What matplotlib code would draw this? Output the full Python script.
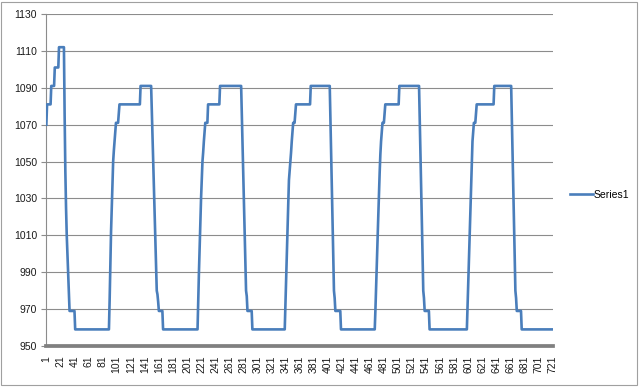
import numpy as np
import matplotlib
matplotlib.use("Agg")
import matplotlib.pyplot as plt
from matplotlib.patches import Rectangle

# readings as (value, number of consecutive points), one list per cycle
cycle1 = [(1070, 1), (1081, 6), (1091, 5), (1101, 6), (1112, 8),
          (1075, 1), (1045, 1), (1025, 1), (1010, 1), (1000, 1), (990, 1), (980, 1),
          (969, 8), (959, 49)]
cycle2 = [(975, 1), (995, 1), (1012, 1), (1025, 1), (1037, 1), (1050, 1),
          (1056, 1), (1061, 1), (1066, 1), (1071, 4), (1076, 1), (1081, 30), (1091, 16),
          (1077, 1), (1063, 1), (1049, 1), (1035, 1), (1021, 1), (1007, 1), (993, 1),
          (980, 1), (978, 1), (974, 1), (969, 6), (959, 50)]
cycle3 = [(975, 1), (990, 1), (1004, 1), (1018, 1), (1030, 1), (1040, 1), (1050, 1),
          (1055, 1), (1061, 1), (1066, 1), (1071, 4), (1081, 17), (1091, 31),
          (1075, 1), (1059, 1), (1043, 1), (1027, 1), (1011, 1), (995, 1), (980, 1),
          (977, 1), (969, 7), (959, 47)]
cycle4 = [(973, 1), (987, 1), (1000, 1), (1013, 1), (1027, 1), (1040, 1), (1045, 1),
          (1050, 1), (1055, 1), (1061, 1), (1066, 1), (1071, 3), (1076, 1), (1081, 21),
          (1091, 28), (1073, 1), (1055, 1), (1036, 1), (1018, 1), (999, 1), (980, 1),
          (976, 1), (969, 8), (959, 49)]
cycle5 = [(970, 1), (983, 1), (995, 1), (1008, 1), (1020, 1), (1032, 1), (1044, 1),
          (1054, 1), (1061, 1), (1066, 1), (1071, 3), (1076, 1), (1081, 20), (1091, 29),
          (1073, 1), (1055, 1), (1036, 1), (1018, 1), (999, 1), (980, 1), (976, 1),
          (969, 7), (959, 54)]
cycle6 = [(972, 1), (985, 1), (998, 1), (1011, 1), (1024, 1), (1037, 1), (1049, 1),
          (1061, 1), (1066, 1), (1071, 3), (1076, 1), (1081, 25), (1091, 25),
          (1073, 1), (1055, 1), (1036, 1), (1018, 1), (999, 1), (980, 1), (976, 1),
          (969, 7), (959, 45)]

y_ticks = list(range(950, 1131, 20))
x_tick_step = 20


def expand(runs):
    vals = [v for v, n in runs]
    reps = [n for v, n in runs]
    return np.repeat(vals, reps)


series1 = np.concatenate([expand(c) for c in (cycle1, cycle2, cycle3, cycle4, cycle5, cycle6)])
x = np.arange(1, len(series1) + 1)

plt.rcParams['font.family'] = ['Liberation Sans', 'DejaVu Sans']

fig = plt.figure(figsize=(6.4, 3.87), dpi=100)
ax = fig.add_axes([46 / 640, 1 - 346 / 387, (553 - 46) / 640, (346 - 14) / 387])

ax.plot(x, series1, color='#4a7ebb', lw=1.9, label='Series1', zorder=3)

ax.set_ylim(950, 1130)
ax.set_xlim(0.5, len(series1) + 0.5)
ax.set_yticks(y_ticks)
ax.set_xticks(x[::x_tick_step])
ax.set_xticklabels([str(v) for v in x[::x_tick_step]], rotation=90)
ax.grid(axis='y', color='#8c8c8c', lw=0.8)
ax.set_axisbelow(True)

for s in ('top', 'right'):
    ax.spines[s].set_visible(False)
ax.spines['left'].set_color('#8c8c8c')
ax.spines['left'].set_linewidth(0.8)
ax.spines['bottom'].set_color('#808080')
ax.spines['bottom'].set_linewidth(2.7)

ax.tick_params(axis='y', length=3.5, width=0.8, color='#8c8c8c', labelsize=7.5,
               labelcolor='#1a1a1a', pad=3)
ax.tick_params(axis='x', length=0, labelsize=7.5, labelcolor='#1a1a1a', pad=7)

ax.legend(loc='center left', bbox_to_anchor=(561 / 640, 1 - 195 / 387),
          bbox_transform=fig.transFigure, frameon=False, fontsize=7.5,
          handlelength=2.2, handletextpad=0.05)

fig.patches.append(Rectangle((0.002, 0.004), 0.994, 0.99, transform=fig.transFigure,
                             fill=False, edgecolor='#a0a0a0', lw=0.8))

fig.savefig('out.png', dpi=100)
